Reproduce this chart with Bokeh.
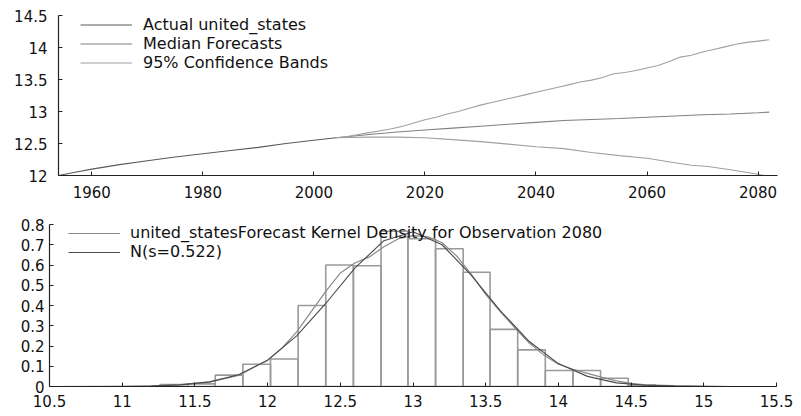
from bokeh.plotting import figure
from bokeh.layouts import column
from bokeh.models import Legend, LegendItem, NumeralTickFormatter, FixedTicker, Range1d
from bokeh.embed import file_html
from bokeh.resources import INLINE

# ---------------- top panel data ----------------
actual_years = [1954, 1957, 1960, 1965, 1970, 1975, 1980, 1985, 1990, 1995, 2000, 2004]
actual_values = [12.00, 12.05, 12.10, 12.17, 12.23, 12.29, 12.34, 12.39, 12.44, 12.50, 12.55, 12.59]

median_years = [2004, 2010, 2015, 2020, 2025, 2030, 2035, 2040, 2045, 2050, 2055, 2060, 2065, 2070, 2075, 2080, 2082]
median_values = [12.59, 12.64, 12.68, 12.71, 12.74, 12.77, 12.80, 12.83, 12.86, 12.875, 12.89, 12.91, 12.93, 12.95, 12.96, 12.98, 12.99]

upper_years = [2004, 2006, 2008, 2010, 2012, 2014, 2016, 2018, 2020, 2022, 2024, 2026, 2028, 2030, 2032, 2034,
               2036, 2038, 2040, 2042, 2044, 2046, 2048, 2050, 2052, 2054, 2056, 2058, 2060, 2062, 2064, 2066,
               2068, 2070, 2072, 2074, 2076, 2078, 2080, 2082]
upper_values = [12.59, 12.61, 12.64, 12.67, 12.70, 12.73, 12.77, 12.82, 12.87, 12.91, 12.96, 13.00, 13.05, 13.10,
                13.14, 13.18, 13.22, 13.26, 13.30, 13.34, 13.38, 13.42, 13.46, 13.49, 13.53, 13.59, 13.61, 13.64,
                13.68, 13.72, 13.78, 13.85, 13.88, 13.93, 13.97, 14.01, 14.05, 14.08, 14.10, 14.12]

lower_years = [2004, 2010, 2015, 2020, 2025, 2030, 2035, 2040, 2045, 2050, 2055, 2060, 2065, 2068, 2071, 2075, 2080, 2082]
lower_values = [12.59, 12.60, 12.60, 12.59, 12.56, 12.53, 12.49, 12.45, 12.42, 12.36, 12.31, 12.27, 12.20, 12.16,
                12.14, 12.09, 12.02, 11.98]

top_xticks = [1960, 1980, 2000, 2020, 2040, 2060, 2080]
top_yticks = [12, 12.5, 13, 13.5, 14, 14.5]

# ---------------- bottom panel data ----------------
hist_edges = [11.26, 11.45, 11.64, 11.83, 12.02, 12.21, 12.40, 12.59, 12.78, 12.965, 13.155, 13.345, 13.53,
              13.72, 13.91, 14.10, 14.29, 14.48, 14.67]
hist_density = [0.010, 0.013, 0.056, 0.110, 0.136, 0.400, 0.600, 0.596, 0.767, 0.730, 0.680, 0.564, 0.282,
                0.181, 0.079, 0.079, 0.041, 0.008]

kernel_x = [10.5, 11.0, 11.2, 11.4, 11.6, 11.8, 12.0, 12.1, 12.2, 12.3, 12.4, 12.5, 12.6, 12.7, 12.8, 12.9, 13.0,
            13.1, 13.2, 13.3, 13.4, 13.5, 13.6, 13.7, 13.8, 13.9, 14.0, 14.1, 14.2, 14.3, 14.4, 14.5, 14.6, 14.8,
            15.0, 15.2, 15.5]
kernel_y = [0.0, 0.0, 0.003, 0.009, 0.022, 0.055, 0.13, 0.19, 0.27, 0.37, 0.47, 0.56, 0.61, 0.64, 0.69, 0.73,
            0.745, 0.74, 0.71, 0.645, 0.555, 0.455, 0.37, 0.29, 0.215, 0.155, 0.11, 0.085, 0.065, 0.045, 0.028,
            0.015, 0.008, 0.004, 0.002, 0.0, 0.0]

normal_x = [10.5, 11.0, 11.2, 11.4, 11.6, 11.8, 12.0, 12.2, 12.4, 12.6, 12.8, 13.0, 13.2, 13.4, 13.6, 13.8, 14.0,
            14.2, 14.4, 14.6, 14.8, 15.0, 15.5]
normal_y = [0.0, 0.001, 0.002, 0.008, 0.023, 0.058, 0.13, 0.25, 0.41, 0.585, 0.72, 0.764, 0.70, 0.55, 0.375,
            0.222, 0.113, 0.05, 0.018, 0.006, 0.002, 0.0, 0.0]

bottom_xticks = [10.5, 11, 11.5, 12, 12.5, 13, 13.5, 14, 14.5, 15, 15.5]
bottom_yticks = [0, 0.1, 0.2, 0.3, 0.4, 0.5, 0.6, 0.7, 0.8]

FONT = "DejaVu Sans"
FSIZE = "15px"
LSIZE = "16px"


def style_axes(p, x_standoff, y_standoff):
    for ax in (p.xaxis[0], p.yaxis[0]):
        ax.axis_line_color = "#222222"
        ax.axis_line_width = 1.2
        ax.major_tick_line_color = "#222222"
        ax.major_tick_in = 4
        ax.major_tick_out = 0
        ax.minor_tick_line_color = None
        ax.major_label_text_font = FONT
        ax.major_label_text_font_size = FSIZE
        ax.major_label_text_color = "#111111"
        ax.formatter = NumeralTickFormatter(format="0.[0]")
    p.xaxis[0].major_label_standoff = x_standoff
    p.yaxis[0].major_label_standoff = y_standoff
    p.xgrid.visible = False
    p.ygrid.visible = False
    p.outline_line_color = None
    p.background_fill_color = "white"
    p.border_fill_color = "white"
    p.frame_align = False


# ---------------- top figure ----------------
p1 = figure(width=801, height=205, output_backend="svg", toolbar_location=None,
            x_range=Range1d(1954, 2083.5), y_range=Range1d(12, 14.5),
            min_border_left=58, min_border_right=24, min_border_top=15, min_border_bottom=30)
style_axes(p1, 10, 11)
p1.xaxis[0].ticker = FixedTicker(ticks=top_xticks)
p1.yaxis[0].ticker = FixedTicker(ticks=top_yticks)

r_act = p1.line(actual_years, actual_values, line_color="#5a5a5a", line_width=1.1)
r_med = p1.line(median_years, median_values, line_color="#808080", line_width=1.1)
r_up = p1.line(upper_years, upper_values, line_color="#a0a0a0", line_width=1.1)
r_lo = p1.line(lower_years, lower_values, line_color="#a0a0a0", line_width=1.1)

leg1 = Legend(items=[LegendItem(label="Actual united_states", renderers=[r_act]),
                     LegendItem(label="Median Forecasts", renderers=[r_med]),
                     LegendItem(label="95% Confidence Bands", renderers=[r_up])],
             location=(22, 103), margin=0, padding=0, spacing=0,
             glyph_width=52, glyph_height=17, label_height=17, label_standoff=11,
             label_text_font=FONT, label_text_font_size=LSIZE, label_text_color="#111111",
             border_line_color=None, background_fill_alpha=0)
p1.add_layout(leg1)

# ---------------- bottom figure ----------------
p2 = figure(width=801, height=211, output_backend="svg", toolbar_location=None,
            x_range=Range1d(10.5, 15.5), y_range=Range1d(0, 0.8),
            min_border_left=49, min_border_right=25, min_border_top=19, min_border_bottom=30)
style_axes(p2, 8, 5)
p2.xaxis[0].ticker = FixedTicker(ticks=bottom_xticks)
p2.yaxis[0].ticker = FixedTicker(ticks=bottom_yticks)

p2.quad(left=hist_edges[:-1], right=hist_edges[1:], bottom=0, top=hist_density,
        fill_color=None, line_color="#9a9a9a", line_width=1.6)
r_ker = p2.line(kernel_x, kernel_y, line_color="#8a8a8a", line_width=1.2)
r_nor = p2.line(normal_x, normal_y, line_color="#4a4a4a", line_width=1.1)

leg2 = Legend(items=[LegendItem(label="united_statesForecast Kernel Density for Observation 2080", renderers=[r_ker]),
                     LegendItem(label="N(s=0.522)", renderers=[r_nor])],
             location=(19, 125), margin=0, padding=0, spacing=0,
             glyph_width=52, glyph_height=18, label_height=18, label_standoff=10,
             label_text_font=FONT, label_text_font_size=LSIZE, label_text_color="#111111",
             border_line_color=None, background_fill_alpha=0)
p2.add_layout(leg2)

layout = column(p1, p2, spacing=0)
open("out.html", "w").write(file_html(layout, INLINE))
